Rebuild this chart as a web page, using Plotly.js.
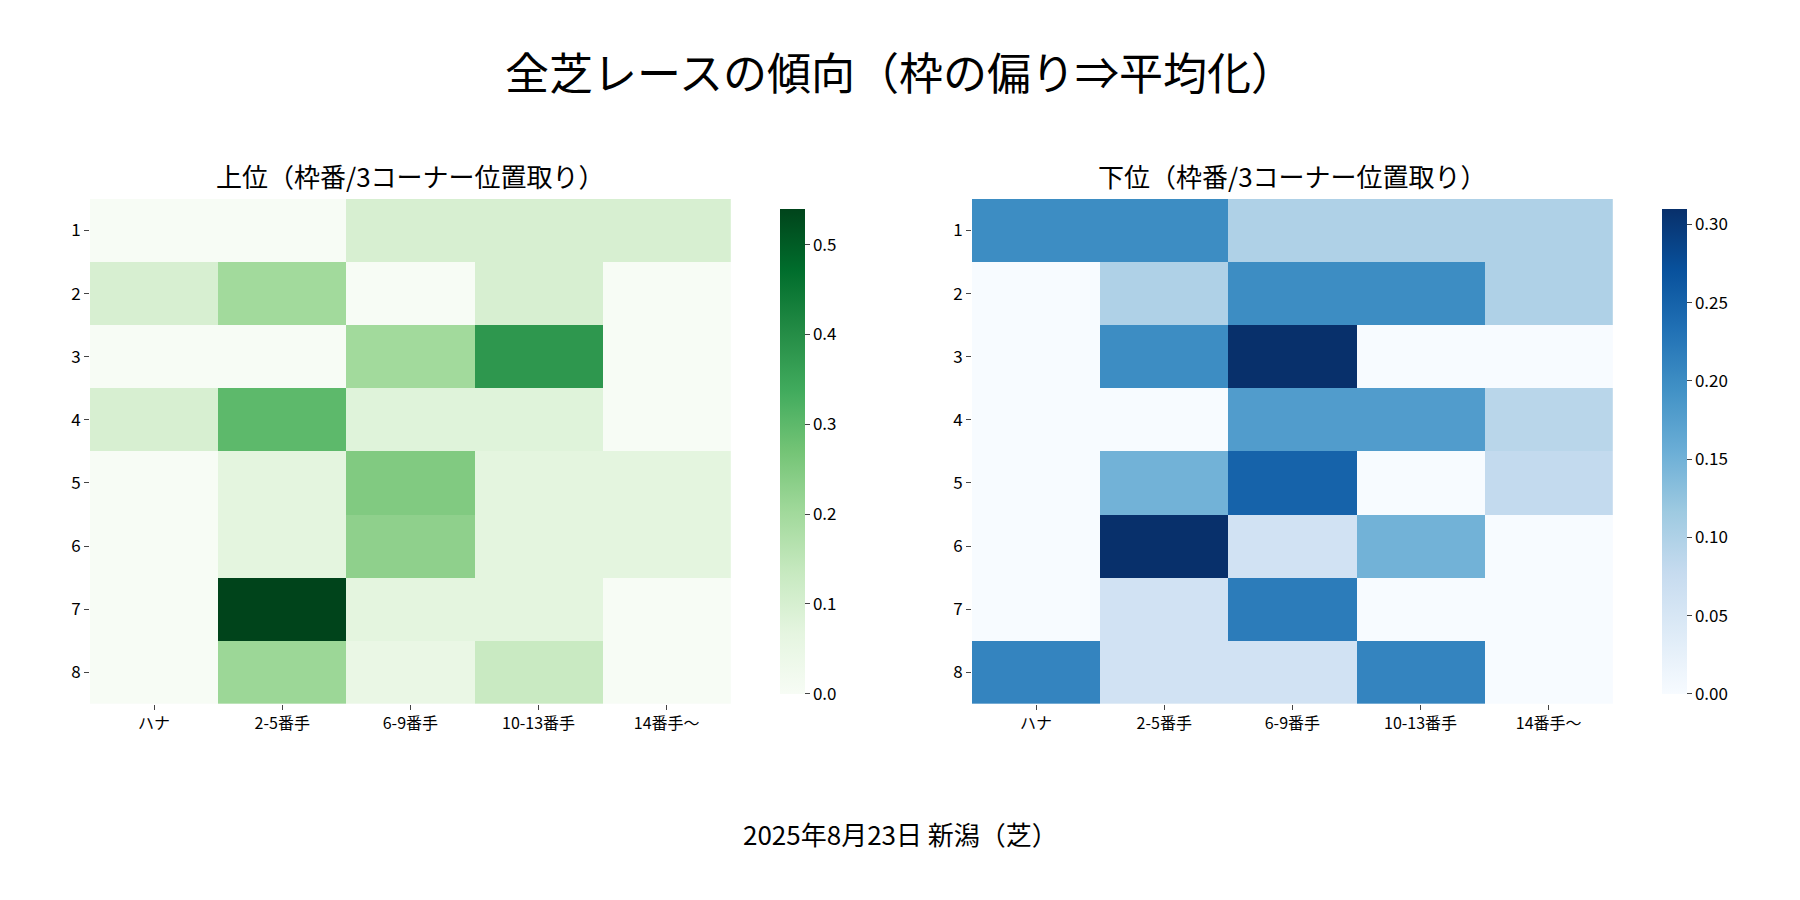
<!DOCTYPE html>
<html>
<head>
<meta charset="utf-8">
<script src="https://cdn.plot.ly/plotly-3.0.1.min.js"></script>
<style>html,body{margin:0;padding:0;background:#fff}</style>
</head>
<body>
<div id="chart" style="width:1800px;height:900px"></div>
<script>
var positions = ['ハナ', '2-5番手', '6-9番手', '10-13番手', '14番手〜'];
var waku = ['1', '2', '3', '4', '5', '6', '7', '8'];

// 上位
var topRates = [
  [0.00, 0.00, 0.10, 0.10, 0.10],
  [0.10, 0.20, 0.00, 0.10, 0.00],
  [0.00, 0.00, 0.20, 0.38, 0.00],
  [0.10, 0.30, 0.08, 0.08, 0.00],
  [0.00, 0.07, 0.25, 0.07, 0.07],
  [0.00, 0.07, 0.23, 0.07, 0.07],
  [0.00, 0.54, 0.07, 0.07, 0.00],
  [0.00, 0.21, 0.05, 0.13, 0.00]
];
// 下位
var bottomRates = [
  [0.20, 0.20, 0.10, 0.10, 0.10],
  [0.00, 0.10, 0.20, 0.20, 0.10],
  [0.00, 0.20, 0.31, 0.00, 0.00],
  [0.00, 0.00, 0.18, 0.18, 0.09],
  [0.00, 0.15, 0.25, 0.00, 0.08],
  [0.00, 0.31, 0.06, 0.15, 0.00],
  [0.00, 0.06, 0.22, 0.00, 0.00],
  [0.21, 0.06, 0.06, 0.21, 0.00]
];

// matplotlib Greens / Blues
var greens = [[0,'#f7fcf5'],[0.125,'#e5f5e0'],[0.25,'#c7e9c0'],[0.375,'#a1d99b'],[0.5,'#74c476'],[0.625,'#41ab5d'],[0.75,'#238b45'],[0.875,'#006d2c'],[1,'#00441b']];
var blues = [[0,'#f7fbff'],[0.125,'#deebf7'],[0.25,'#c6dbef'],[0.375,'#9ecae1'],[0.5,'#6baed6'],[0.625,'#4292c6'],[0.75,'#2171b5'],[0.875,'#08519c'],[1,'#08306b']];

var font = "'Noto Sans CJK JP', 'Noto Sans', sans-serif";
var yDom = [0.218, 0.779];

function cbar(x, dtick) {
  return {x: x, xanchor: 'left', y: yDom[0], yanchor: 'bottom', len: yDom[1] - yDom[0], lenmode: 'fraction',
    thickness: 25, outlinewidth: 0, ticks: 'outside', ticklen: 5, dtick: dtick,
    tickformat: dtick < 0.1 ? '.2f' : '.1f', tickfont: {size: 17, color: '#000'}};
}

var traces = [
  {type: 'heatmap', z: topRates, x: positions, y: waku, colorscale: greens, zmin: 0, zmax: 0.54,
   xaxis: 'x', yaxis: 'y', colorbar: cbar(0.428, 0.1), hoverongaps: false},
  {type: 'heatmap', z: bottomRates, x: positions, y: waku, colorscale: blues, zmin: 0, zmax: 0.31,
   xaxis: 'x2', yaxis: 'y2', colorbar: cbar(0.918, 0.05)}
];

function xax(dom, anchor) {
  return {domain: dom, anchor: anchor, ticks: 'outside', ticklen: 5, showgrid: false, zeroline: false,
    showline: false, tickfont: {size: 16, color: '#000'}};
}
function yax(anchor) {
  return {domain: yDom, anchor: anchor, autorange: 'reversed', ticks: 'outside', ticklen: 5,
    showgrid: false, zeroline: false, showline: false, tickfont: {size: 17, color: '#000'}};
}

var layout = {
  width: 1800, height: 900,
  margin: {l: 0, r: 0, t: 0, b: 0},
  paper_bgcolor: '#fff', plot_bgcolor: '#fff',
  font: {family: font, color: '#000'},
  title: {text: '全芝レースの傾向（枠の偏り⇒平均化）', x: 0.5, xanchor: 'center', y: 0.917, yanchor: 'middle',
    font: {size: 44, family: font, color: '#000'}},
  xaxis: xax([0.05, 0.406], 'y'),
  yaxis: yax('x'),
  xaxis2: xax([0.54, 0.896], 'y2'),
  yaxis2: yax('x2'),
  annotations: [
    {text: '上位（枠番/3コーナー位置取り）', xref: 'paper', yref: 'paper', x: 0.228, y: 0.805, xanchor: 'center', yanchor: 'middle', showarrow: false, font: {size: 26}},
    {text: '下位（枠番/3コーナー位置取り）', xref: 'paper', yref: 'paper', x: 0.718, y: 0.805, xanchor: 'center', yanchor: 'middle', showarrow: false, font: {size: 26}},
    {text: '2025年8月23日 新潟（芝）', xref: 'paper', yref: 'paper', x: 0.5, y: 0.074, xanchor: 'center', yanchor: 'middle', showarrow: false, font: {size: 26}}
  ]
};

Plotly.newPlot('chart', traces, layout, {displayModeBar: false, staticPlot: true});
</script>
</body>
</html>
